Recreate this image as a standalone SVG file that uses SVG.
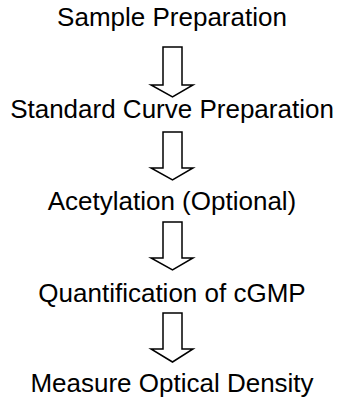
<svg xmlns="http://www.w3.org/2000/svg" width="344" height="404" viewBox="0 0 344 404">
<style>
text{font-family:"Liberation Sans",Arial,sans-serif;font-size:26px;fill:#000;text-anchor:middle}
.arr{fill:#fff;stroke:#000;stroke-width:1.5;stroke-linejoin:miter}
</style>
<rect width="344" height="404" fill="#fff"/>
<g id="n1"><text x="172" y="26">Sample Preparation</text></g>
<g id="n2"><text x="172" y="118">Standard Curve Preparation</text></g>
<g id="n3"><text x="172" y="210">Acetylation (Optional)</text></g>
<g id="n4"><text x="172" y="302">Quantification of cGMP</text></g>
<g id="n5"><text x="172" y="392">Measure Optical Density</text></g>
<g id="connectors">
<path class="arr" d="M163 47H182V85H193L172.5 97L151 85H163Z"/>
<path class="arr" d="M163 132H182V168H193L172.5 180L151 168H163Z"/>
<path class="arr" d="M163 222H182V258H193L172.5 270L151 258H163Z"/>
<path class="arr" d="M163 313H182V349H193L172.5 362L151 349H163Z"/>
</g>
</svg>
